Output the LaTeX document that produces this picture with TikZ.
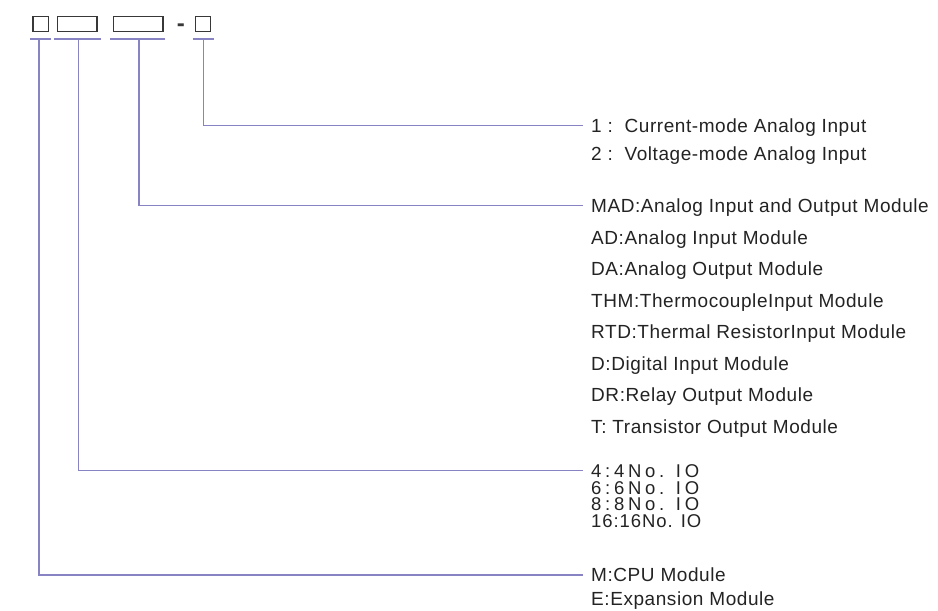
\documentclass[tikz,border=0pt]{standalone}
\usepackage{fontspec}
\setmainfont{Liberation Sans}[LetterSpace=3]
\newfontfamily\iofont{Liberation Sans}[LetterSpace=20]
\newfontfamily\iofontb{Liberation Sans}[LetterSpace=5]
\usetikzlibrary{positioning}
\definecolor{clink}{HTML}{8884C4}
\definecolor{cbox}{HTML}{383838}
\definecolor{ctext}{HTML}{232323}

\begin{document}
\begin{tikzpicture}[x=1pt, y=-1pt,
  field/.style={draw=cbox, line width=1.6pt, minimum height=15pt, inner sep=0pt},
  link/.style={draw=clink, line width=1.3pt},
  item/.style={anchor=base west, inner sep=0pt, text=ctext, font=\fontsize{19}{22}\selectfont},
  ioitem/.style={anchor=base west, inner sep=0pt, text=ctext, font=\fontsize{18.5}{20}\iofont}]
  \useasboundingbox (0,0) rectangle (938,611);

  % code fields
  \node[field, minimum width=15.2pt] (fa) at (40.7,23.9) {};
  \node[field, minimum width=39.6pt] (fb) at (77.2,23.9) {};
  \node[field, minimum width=49.3pt] (fc) at (138.3,23.9) {};
  \node[field, minimum width=15pt] (fd) at (202.8,23.9) {};
  \node[anchor=base, inner sep=0pt, text=cbox, font=\fontsize{24}{26}\bfseries] (dash) at (180.8,31) {-};

  % underlines
  \foreach \l/\r in {30/50.7, 54/100.7, 110/164.7, 192.7/213.7}{
    \draw[link] (\l,39) -- (\r,39);
  }
  \coordinate (ua) at (39,39);
  \coordinate (ub) at (78.7,39);
  \coordinate (uc) at (139,39);
  \coordinate (ud) at (203.7,39);

  % line ends
  \coordinate (ea) at (583,575);
  \coordinate (eb) at (583,470.7);
  \coordinate (ec) at (583,205.7);
  \coordinate (ed) at (583,125.7);

  \draw[link] (ud) |- (ed);
  \draw[link] (uc) |- (ec);
  \draw[link] (ub) |- (eb);
  \draw[link] (ua) |- (ea);

  % input mode
  \foreach \txt [count=\i from 0] in {1 :\ \ Current-mode Analog Input, 2 :\ \ Voltage-mode Analog Input}
    \node[item] (chn\i) at (591, 132.5+27.5*\i) {\txt};

  % module type
  \foreach \txt [count=\i from 0] in {MAD:Analog Input and Output Module, AD:Analog Input Module,
      DA:Analog Output Module, THM:ThermocoupleInput Module, RTD:Thermal ResistorInput Module,
      D:Digital Input Module, DR:Relay Output Module, T: Transistor Output Module}
    \node[item] (mod\i) at (591, 212.5+31.5*\i) {\txt};

  % IO points
  \foreach \txt [count=\i from 0] in {4:4No. IO, 6:6No. IO, 8:8No. IO}
    \node[ioitem] (io\i) at (591, 477.3+16.7*\i) {\txt};
  \node[ioitem, font=\fontsize{18.5}{20}\iofontb] (io3) at (591, 527.4) {16:16No. IO};

  % CPU or expansion
  \node[item] (cpu0) at (591, 581.8) {M:CPU Module};
  \node[item] (cpu1) at (591, 605.1) {E:Expansion Module};
\end{tikzpicture}
\end{document}
